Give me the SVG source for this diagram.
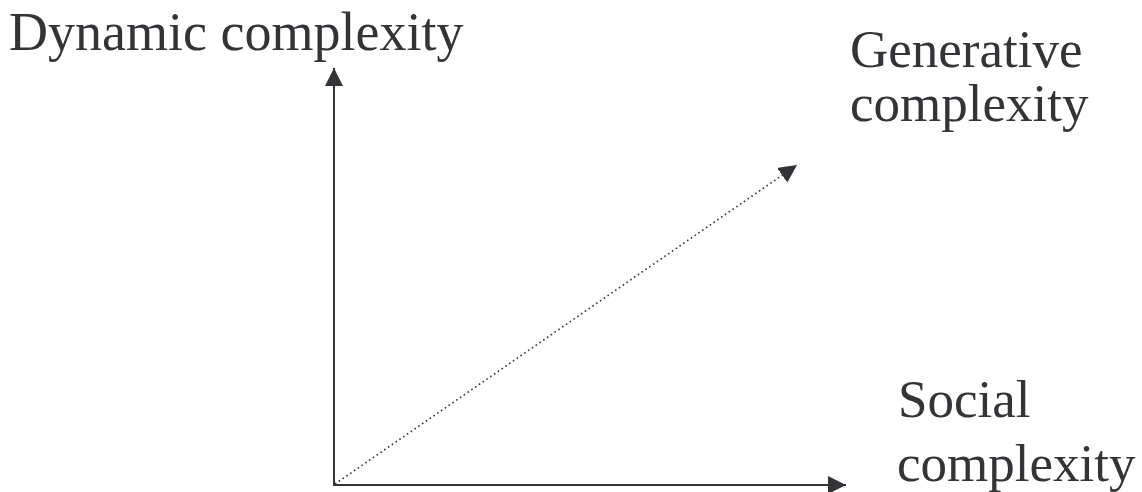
<svg xmlns="http://www.w3.org/2000/svg" width="1142" height="492" viewBox="0 0 1142 492">
  <style>
    .lbl { font-family: "Liberation Serif", "Times New Roman", serif; font-size: 53px; fill: #333338; }
    .big { font-size: 54px; }
    .axis { stroke: #333338; stroke-width: 2; fill: none; }
    .diag { stroke: #333338; stroke-width: 1.6; stroke-dasharray: 1.6 3; fill: none; }
  </style>
  <defs>
    <marker id="arr" markerUnits="userSpaceOnUse" markerWidth="18" markerHeight="18" viewBox="0 0 17 17" refX="17" refY="8.5" orient="auto">
      <path d="M0,0 L17,8.5 L0,17 Z" fill="#333338"/>
    </marker>
  </defs>
  <rect width="1142" height="492" fill="#ffffff"/>
  <g id="connectors">
    <line class="axis" x1="334" y1="485" x2="334" y2="68" marker-end="url(#arr)"/>
    <line class="axis" x1="333" y1="485" x2="846" y2="485" marker-end="url(#arr)"/>
    <line class="diag" x1="335" y1="484" x2="797" y2="165" marker-end="url(#arr)"/>
  </g>
  <g id="dynamic">
    <text class="lbl big" x="9" y="50">Dynamic complexity</text>
  </g>
  <g id="generative">
    <text class="lbl" x="850" y="67">Generative</text>
    <text class="lbl" x="850" y="121">complexity</text>
  </g>
  <g id="social">
    <text class="lbl" x="898" y="417">Social</text>
    <text class="lbl" x="897" y="481">complexity</text>
  </g>
</svg>
